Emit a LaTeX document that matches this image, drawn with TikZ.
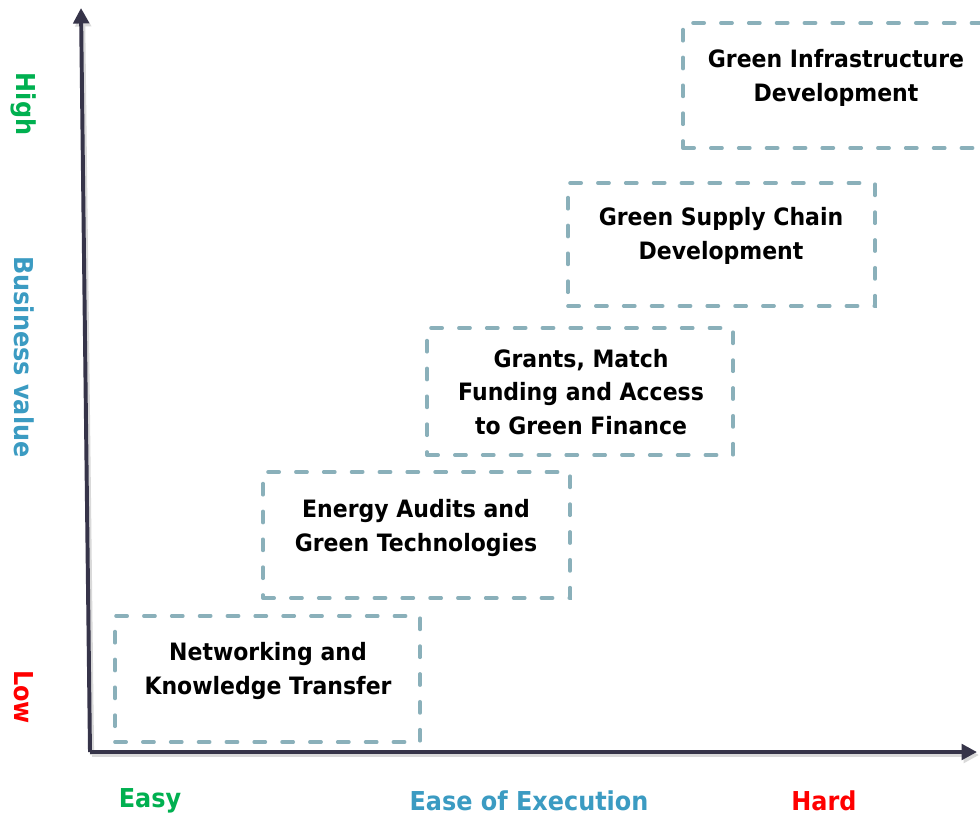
\documentclass[tikz,border=0pt]{standalone}
\usepackage{fontspec}
\setmainfont{DejaVu Sans}[FakeStretch=0.92]
\usepackage{tikz}
\usetikzlibrary{arrows.meta}
\definecolor{axisnavy}{HTML}{363449}
\definecolor{dashteal}{HTML}{8AB0BA}
\definecolor{lowred}{HTML}{FF0000}
\definecolor{highgreen}{HTML}{00B050}
\definecolor{titleblue}{HTML}{3B9BC2}
\tikzset{
    axis/.style={line width=2.8pt,draw=axisnavy,-{Triangle[length=11pt,width=11pt]}},
    axisshadow/.style={line width=3pt,draw=black!15,-{Triangle[length=11pt,width=11pt]}},
    stepbox/.style={draw=dashteal,line width=2.5pt,line cap=round,dash pattern=on 8pt off 11.8pt,rectangle,inner sep=0pt},
    steptext/.style={align=center,font=\bfseries\fontsize{17}{24}\selectfont,text=black},
    ticklabel/.style={font=\bfseries\fontsize{18.5}{22}\selectfont}
}
\begin{document}
\begin{tikzpicture}[x=0.025cm,y=-0.025cm]
\clip (0,0) rectangle (980,816);
\fill[white] (0,0) rectangle (980,816);

% axes
\coordinate (O) at (90,752);
\coordinate (ytop) at (81,8);
\coordinate (xend) at (977,752);
\coordinate (Os) at (92,755);
\coordinate (ytops) at (83,11);
\coordinate (xends) at (979,755);
\draw[axisshadow] (Os) -- (ytops);
\draw[axisshadow] (Os) -- (xends);
\draw[axis] (O) -- (ytop);
\draw[axis] (O) -- (xend);

% steps
\node[stepbox,minimum width=7.625cm,minimum height=3.15cm] (net) at (267.5,679) {};
\node[stepbox,minimum width=7.675cm,minimum height=3.15cm] (audit) at (416.5,535) {};
\node[stepbox,minimum width=7.65cm,minimum height=3.175cm] (grant) at (580,391.5) {};
\node[stepbox,minimum width=7.675cm,minimum height=3.075cm] (supply) at (721.5,244.5) {};
\node[stepbox,minimum width=7.75cm,minimum height=3.125cm] (infra) at (838,85.5) {};

\node[steptext] (nettxt) at (268,671) {Networking and\\Knowledge Transfer};
\node[steptext] (audittxt) at (416,528) {Energy Audits and\\Green Technologies};
\node[steptext] (granttxt) at (581,392) {Grants, Match\\Funding and Access\\to Green Finance};
\node[steptext] (supplytxt) at (721,236) {Green Supply Chain\\Development};
\node[steptext] (infratxt) at (836,78) {Green Infrastructure\\Development};

% axis labels
\node[ticklabel,text=highgreen,rotate=-90] (high) at (24,104) {High};
\node[ticklabel,text=titleblue,rotate=-90] (value) at (24,357) {Business value};
\node[ticklabel,text=lowred,rotate=-90] (low) at (24,697) {Low};
\node[ticklabel,text=highgreen] (easy) at (150,801) {Easy};
\node[ticklabel,text=titleblue] (ease) at (529,801) {Ease of Execution};
\node[ticklabel,text=lowred] (hard) at (824,801) {Hard};
\end{tikzpicture}
\end{document}
